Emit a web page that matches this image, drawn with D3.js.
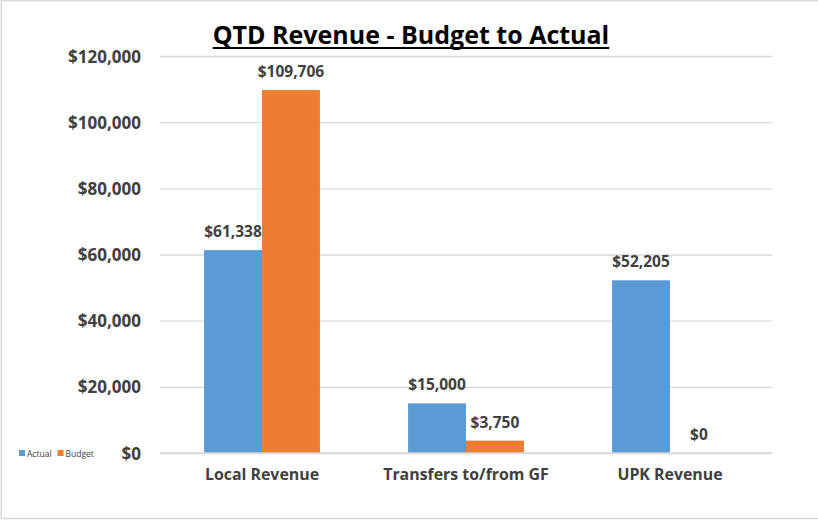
<!DOCTYPE html>
<html><head><meta charset="utf-8">
<script src="https://cdn.jsdelivr.net/npm/d3@7"></script>
<style>
html,body{margin:0;padding:0;background:#fff;}
svg{display:block;}
text{font-family:"Open Sans","Liberation Sans",sans-serif;}
</style></head>
<body><svg id="c" width="818" height="520"></svg>
<script>
const categories = ["Local Revenue", "Transfers to/from GF", "UPK Revenue"];
const seriesNames = ["Actual", "Budget"];
const actual = [61338, 15000, 52205];
const budget = [109706, 3750, 0];
const yTicks = [0, 20000, 40000, 60000, 80000, 100000, 120000];
const colors = ["#5B9BD5", "#ED7D31"];
const title = "QTD Revenue - Budget to Actual";

(function(){
const svg = d3.select("#c");
svg.append("path").attr("d","M818,0.75H1.25V518.5H818")
  .attr("fill","none").attr("stroke","#d9d9d9").attr("stroke-width",1.5);

const pl = 160, pr = 772, pt = 56, pb = 453;
const x0 = d3.scaleBand().domain(categories).range([pl, pr]).paddingInner(0).paddingOuter(0);
const x1 = d3.scaleBand().domain(seriesNames).range([0, x0.bandwidth()]).paddingInner(0).paddingOuter(0.76);
const y = d3.scaleLinear().domain([0, 120000]).range([pb, pt]);

const fmt = v => "$" + d3.format(",")(v);

const yAxis = d3.axisLeft(y).tickValues(yTicks).tickFormat(fmt).tickSize(-(pr-pl)).tickPadding(19);
const ga = svg.append("g").attr("transform",`translate(${pl},0)`).call(yAxis);
ga.select(".domain").remove();
ga.selectAll(".tick line").attr("stroke","#d9d9d9").attr("stroke-width",1.3);
ga.selectAll(".tick text").attr("fill","#404040").attr("font-size","17px").attr("font-weight","bold").attr("dy","0.36em");

const data = categories.map((c,i)=>({cat:c, vals:[actual[i], budget[i]]}));
const g = svg.append("g");
data.forEach(d=>{
  d.vals.forEach((v,j)=>{
    const bx = x0(d.cat) + x1(seriesNames[j]);
    g.append("rect").attr("x",bx).attr("y",y(v)).attr("width",x1.bandwidth()).attr("height",pb - y(v))
      .attr("fill",colors[j]);
    g.append("text").attr("x",bx + x1.bandwidth()/2).attr("y",y(v) - 13)
      .attr("text-anchor","middle").attr("fill","#404040").attr("font-size","15.5px").attr("font-weight","bold")
      .text(fmt(v));
  });
});

svg.append("line").attr("x1",pl).attr("x2",pr).attr("y1",pb).attr("y2",pb)
  .attr("stroke","#d9d9d9").attr("stroke-width",1.3);
const xAxis = d3.axisBottom(x0).tickSize(0).tickPadding(16);
const gx = svg.append("g").attr("transform",`translate(0,${pb})`).call(xAxis);
gx.select(".domain").remove();
gx.selectAll(".tick text").attr("fill","#404040").attr("font-size","15.9px").attr("font-weight","bold");

const t = svg.append("text").attr("x",411).attr("y",44).attr("text-anchor","middle")
  .attr("font-size","25px").attr("font-weight","bold").attr("fill","#000").text(title);
const bb = t.node().getBBox();
svg.append("line").attr("x1",bb.x).attr("x2",bb.x+bb.width).attr("y1",48).attr("y2",48)
  .attr("stroke","#000").attr("stroke-width",2);

const lg = svg.append("g").attr("transform","translate(19,450)");
let lx = 0;
seriesNames.forEach((s,i)=>{
  lg.append("rect").attr("x",lx).attr("y",0).attr("width",6).attr("height",6).attr("fill",colors[i]);
  const tt = lg.append("text").attr("x",lx+8).attr("y",6.5).attr("font-size","8.5px").attr("fill","#404040").text(s);
  lx += 8 + tt.node().getComputedTextLength() + 6;
});
})();
</script></body></html>
